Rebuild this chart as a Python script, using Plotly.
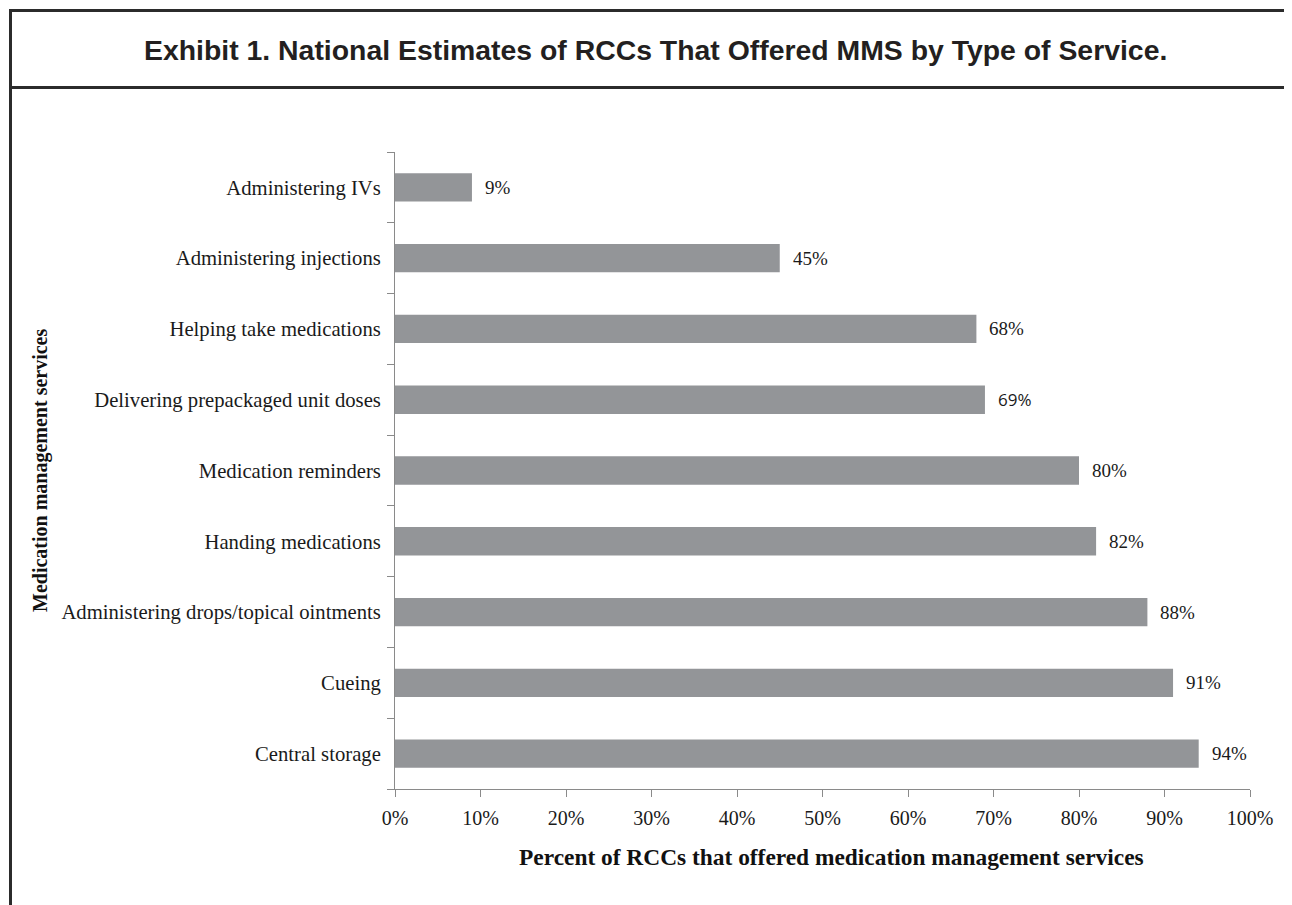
import plotly.graph_objects as go

categories = [
    "Administering IVs",
    "Administering injections",
    "Helping take medications",
    "Delivering prepackaged unit doses",
    "Medication reminders",
    "Handing medications",
    "Administering drops/topical ointments",
    "Cueing",
    "Central storage",
]
values = [9, 45, 68, 69, 80, 82, 88, 91, 94]
x_ticks = [0, 10, 20, 30, 40, 50, 60, 70, 80, 90, 100]
x_tick_labels = [f"{v}%" for v in x_ticks]

OFF = 8  # page body margin
W, H = 1292, 905
L, R, T, B = 395 - OFF, 1250 - OFF, 152 - OFF, 789 - OFF  # plot area in figure pixels

def px_x(p):
    return (p - OFF - L) / (R - L)

def px_y(p):
    return (B - (p - OFF)) / (B - T)

SERIF = "Liberation Serif, Times New Roman, serif"
SANS = "Liberation Sans, Arial, sans-serif"
AXIS = "#8a8a8a"

fig = go.Figure()
fig.add_trace(go.Bar(
    x=values,
    y=categories,
    orientation="h",
    marker=dict(color="#939598", line=dict(width=0)),
    width=0.4,
    hoverinfo="x+y",
))

annotations = []
for c, v in zip(categories, values):
    fnt = dict(family=SERIF, size=19, color="#1a1a1a")
    if v == 69:
        fnt = dict(family="Open Sans, " + SANS, size=17, color="#1a1a1a")
    annotations.append(dict(
        x=v, y=c, xref="x", yref="y", text=f"{v}%",
        showarrow=False, xanchor="left", yanchor="middle", xshift=11,
        font=fnt,
    ))

annotations.append(dict(
    x=px_x(655), y=px_y(50), xref="paper", yref="paper",
    text="Exhibit 1. National Estimates of RCCs That Offered MMS by Type of Service.",
    showarrow=False, xanchor="center", yanchor="middle",
    font=dict(family=SANS, size=28.4, color="#231f20", weight="bold"),
))
annotations.append(dict(
    x=px_x(831), y=px_y(857), xref="paper", yref="paper",
    text="<b>Percent of RCCs that offered medication management services</b>",
    showarrow=False, xanchor="center", yanchor="middle",
    font=dict(family=SERIF, size=23.4, color="#111111"),
))
annotations.append(dict(
    x=px_x(40), y=px_y(471), xref="paper", yref="paper",
    text="<b>Medication management services</b>",
    showarrow=False, xanchor="center", yanchor="middle", textangle=-90,
    font=dict(family=SERIF, size=20, color="#111111"),
))

frame = dict(color="#2b2b2b", width=3)
shapes = [
    dict(type="line", xref="paper", yref="paper", x0=px_x(9), x1=px_x(1310),
         y0=px_y(10.5), y1=px_y(10.5), line=frame),
    dict(type="line", xref="paper", yref="paper", x0=px_x(9), x1=px_x(1310),
         y0=px_y(87.5), y1=px_y(87.5), line=frame),
    dict(type="line", xref="paper", yref="paper", x0=px_x(10.5), x1=px_x(10.5),
         y0=px_y(9), y1=px_y(920), line=frame),
]

fig.update_layout(
    width=W, height=H,
    margin=dict(l=L, r=W - R, t=T, b=H - B, autoexpand=False),
    paper_bgcolor="white", plot_bgcolor="white",
    showlegend=False,
    annotations=annotations,
    shapes=shapes,
    xaxis=dict(
        range=[0, 100], tickvals=x_ticks, ticktext=x_tick_labels,
        showgrid=False, zeroline=False,
        showline=True, linecolor=AXIS, linewidth=1,
        ticks="outside", ticklen=7, tickcolor=AXIS, tickwidth=1,
        ticklabelstandoff=4,
        tickfont=dict(family=SERIF, size=20, color="#1a1a1a"),
        fixedrange=True,
    ),
    yaxis=dict(
        categoryorder="array", categoryarray=categories[::-1],
        autorange=False, range=[-0.5, len(categories) - 0.5],
        showgrid=False, zeroline=False,
        showline=True, linecolor=AXIS, linewidth=1,
        ticks="outside", ticklen=7, tickcolor=AXIS, tickwidth=1,
        tickson="boundaries",
        ticklabelstandoff=9,
        tickfont=dict(family=SERIF, size=20.7, color="#1a1a1a"),
        fixedrange=True,
    ),
)

fig.write_html("out.html")
